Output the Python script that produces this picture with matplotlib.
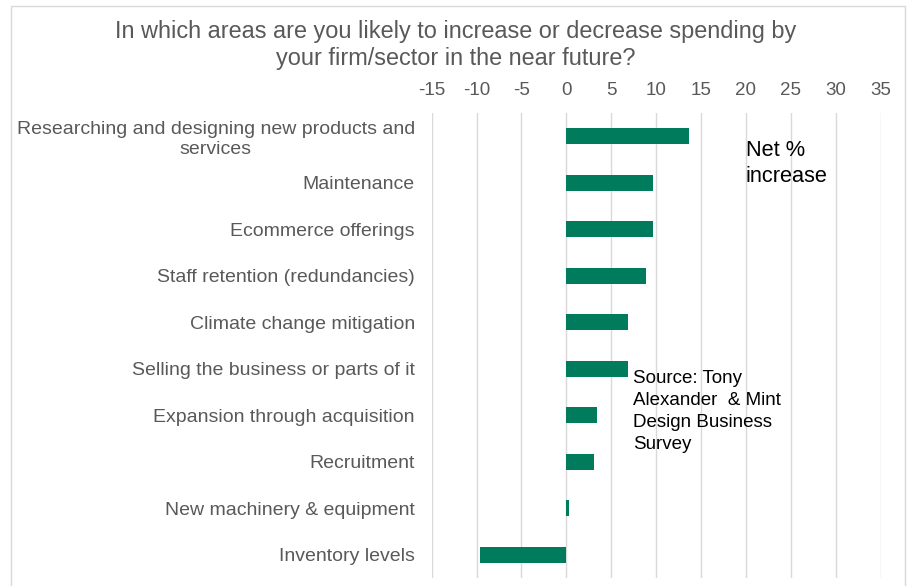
import matplotlib.pyplot as plt
from matplotlib.patches import Rectangle

plt.rcParams["font.family"] = ["Liberation Sans", "DejaVu Sans"]

categories = [
    "Researching and designing new products and\nservices",
    "Maintenance",
    "Ecommerce offerings",
    "Staff retention (redundancies)",
    "Climate change mitigation",
    "Selling the business or parts of it",
    "Expansion through acquisition",
    "Recruitment",
    "New machinery & equipment",
    "Inventory levels",
]
net_increase = [13.7, 9.6, 9.6, 8.9, 6.9, 6.9, 3.4, 3.1, 0.3, -9.6]
x_ticks = [-15, -10, -5, 0, 5, 10, 15, 20, 25, 30, 35]

GREEN = "#007C5C"
GREY_TEXT = "#595959"

fig = plt.figure(figsize=(9.11, 5.86), dpi=100)
ax = fig.add_axes([431.6 / 911, 8 / 586, (880.7 - 431.6) / 911, (578 - 113) / 586])

# thin frame round the whole chart area
fig.patches.append(Rectangle((11 / 911, -0.01), (905 - 11) / 911, 1.0 - 6 / 586 + 0.01,
                             transform=fig.transFigure, fill=False,
                             edgecolor="#d9d9d9", linewidth=1.0))

y = list(range(len(categories)))
ax.barh(y, net_increase, height=0.35, color=GREEN, zorder=3)

ax.set_xlim(-15, 35)
ax.set_ylim(len(categories) - 0.5, -0.5)
ax.set_xticks(x_ticks)
ax.set_xticklabels([str(t) for t in x_ticks])
ax.xaxis.tick_top()
ax.tick_params(axis="x", length=0, pad=10, labelsize=13.5, labelcolor=GREY_TEXT)
ax.set_yticks(y)
ax.set_yticklabels(categories, multialignment="center", linespacing=1.25)
ax.tick_params(axis="y", length=0, pad=12, labelsize=14, labelcolor=GREY_TEXT)
ax.grid(axis="x", color="#d9d9d9", linewidth=1.0, zorder=0)
for side in ax.spines.values():
    side.set_visible(False)

fig.text(0.5, 1 - 45 / 586,
         "In which areas are you likely to increase or decrease spending by\nyour firm/sector in the near future?",
         ha="center", va="center", fontsize=16.9, color=GREY_TEXT, linespacing=1.25)

ax.text(20, 0.07, "Net %\nincrease", ha="left", va="top", fontsize=15.7,
        color="black", linespacing=1.35)
ax.text(7.4, 5.03, "Source: Tony\nAlexander  & Mint\nDesign Business\nSurvey",
        ha="left", va="top", fontsize=13.5, color="black", linespacing=1.38)

fig.savefig("out.png", dpi=100)
